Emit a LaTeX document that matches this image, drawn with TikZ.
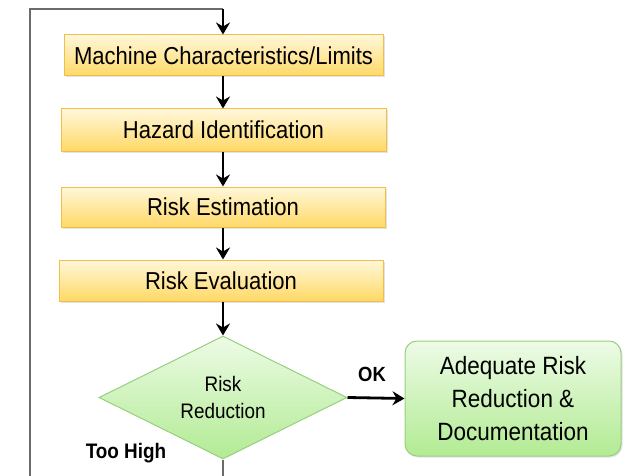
\documentclass[tikz,border=0pt]{standalone}
\usepackage{fontspec}
\setmainfont{Liberation Sans}[FakeStretch=0.9]
\usetikzlibrary{shapes.geometric,arrows.meta,shadows}
\definecolor{boxtop}{HTML}{FFF7DA}
\definecolor{boxbot}{HTML}{FFD966}
\definecolor{boxline}{HTML}{F2BE45}
\definecolor{greentop}{HTML}{EDFBE6}
\definecolor{greenbot}{HTML}{B2EB93}
\definecolor{greenline}{HTML}{97CF7E}

\begin{document}
\begin{tikzpicture}[x=1pt,y=-1pt,
    stepbox/.style={draw=boxline, line width=1pt, top color=boxtop, bottom color=boxbot,
        drop shadow={shadow xshift=1.5pt, shadow yshift=-1.5pt, fill=black!22}, font=\fontsize{24.5}{28}\selectfont},
    decision/.style={diamond, aspect=2, draw=greenline, line width=1pt, top color=greentop, bottom color=greenbot,
        inner sep=0pt, font=\fontsize{21}{27}\selectfont, align=center},
    endbox/.style={rounded corners=12pt, draw=greenline, line width=1pt, top color=greentop, bottom color=greenbot,
        drop shadow={shadow xshift=1.5pt, shadow yshift=-1.5pt, fill=black!22}, align=center, font=\fontsize{25}{33}\selectfont},
    flow/.style={-{Stealth[length=12pt,width=14pt,inset=4pt]}, line width=2.8pt, black},
    loop/.style={line width=2.8pt, black!58}]
    \useasboundingbox (0,0) rectangle (626,476);

    \node[stepbox, minimum width=319pt, minimum height=41pt] (limits) at (223.5,55.5) {Machine Characteristics/Limits};
    \node[stepbox, minimum width=325pt, minimum height=42pt] (hazard) at (223.5,130) {Hazard Identification};
    \node[stepbox, minimum width=324pt, minimum height=40pt] (estim) at (223,207) {Risk Estimation};
    \node[stepbox, minimum width=324pt, minimum height=41pt] (evalu) at (221,280.5) {Risk Evaluation};
    \node[decision, minimum width=248pt, minimum height=123pt] (reduce) at (223,397.5) {Risk\\Reduction};
    \node[endbox, minimum width=216pt, minimum height=115pt] (adequate) at (513,398.5) {Adequate Risk\\Reduction \&\\Documentation};

    \coordinate (top) at (223,9);
    \coordinate (corner) at (30,9);
    \coordinate (bottom) at (30,490);
    \coordinate (under) at (223,490);

    \draw[loop] (reduce.south) -- (under);
    \draw[loop] (bottom) -- (corner) -- (top);
    \draw[flow] (top) -- (limits.north -| top);
    \draw[flow] (limits.south -| top) -- (hazard.north -| top);
    \draw[flow] (hazard.south -| top) -- (estim.north -| top);
    \draw[flow] (estim.south -| top) -- (evalu.north -| top);
    \draw[flow] (evalu.south -| top) -- (reduce.north);
    \draw[flow] (reduce.east) -- (adequate.west) node[midway, above=12pt, xshift=-4pt, font=\bfseries\fontsize{20.5}{24}\selectfont] (ok) {OK};

    \node[font=\bfseries\fontsize{21}{24}\selectfont] (toohigh) at (126,453) {Too High};
\end{tikzpicture}
\end{document}
